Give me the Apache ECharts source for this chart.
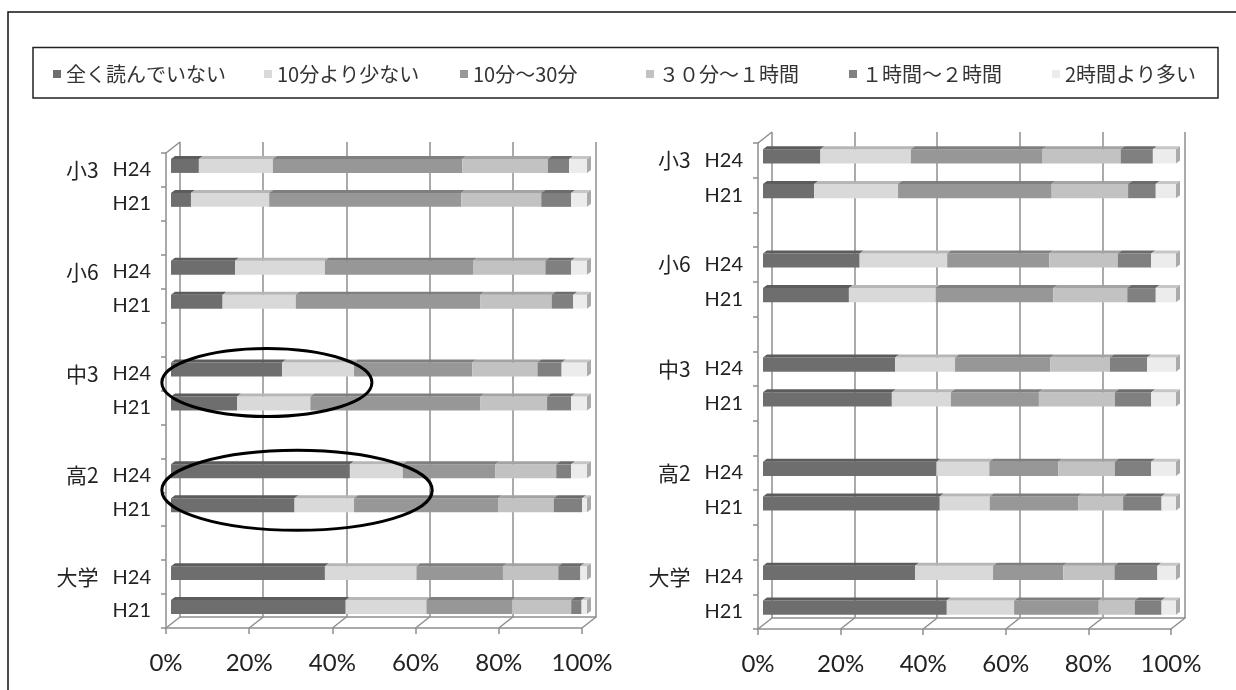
<!DOCTYPE html>
<html lang="ja">
<head>
<meta charset="utf-8">
<title>読書時間の比較（H21・H24）</title>
<script src="https://cdn.jsdelivr.net/npm/echarts@6/dist/echarts.min.js"></script>
<style>
  html, body { margin: 0; padding: 0; background: #fff; }
  #chart { width: 1236px; height: 690px; }
</style>
</head>
<body>
<div id="chart"></div>
<script>
// Reading-time bands shown in the legend
const BANDS = ['全く読んでいない', '10分より少ない', '10分～30分', '３０分～１時間', '１時間～２時間', '2時間より多い'];
const GROUPS = ['小3', '小6', '中3', '高2', '大学'];
const YEARS = ['H24', 'H21'];
const X_TICKS = [0, 20, 40, 60, 80, 100];

// Left panel, rows: 小3 H24, 小3 H21, 小6 H24, 小6 H21, 中3 H24, 中3 H21, 高2 H24, 高2 H21, 大学 H24, 大学 H21 (%)
const leftNone    = [6.7, 4.8, 15.4, 12.4, 26.7, 15.9, 43.0, 29.7, 37.0, 42.0];
const leftUnder10 = [17.8, 18.8, 21.6, 17.6, 17.3, 17.6, 12.7, 14.3, 22.0, 19.4];
const left10to30  = [45.5, 46.2, 35.6, 44.4, 28.4, 40.9, 22.3, 34.6, 20.8, 20.6];
const left30to60  = [20.6, 19.2, 17.4, 17.1, 15.7, 16.0, 14.6, 13.4, 13.3, 14.2];
const left1to2h   = [5.1, 7.2, 6.2, 5.2, 5.8, 5.8, 3.6, 6.8, 5.3, 2.5];
const leftOver2h  = [4.3, 3.8, 3.8, 3.3, 6.1, 3.8, 3.8, 1.2, 1.6, 1.3];

// Right panel, same row order (%)
const rightNone    = [13.9, 12.4, 23.4, 20.8, 32.0, 31.2, 42.0, 42.8, 36.8, 44.5];
const rightUnder10 = [21.9, 20.3, 21.2, 21.0, 14.5, 14.3, 12.8, 12.1, 18.9, 16.3];
const right10to30  = [31.9, 37.2, 24.7, 28.5, 23.1, 21.3, 16.7, 21.4, 17.0, 20.5];
const right30to60  = [18.9, 18.5, 16.6, 17.9, 14.4, 18.4, 13.7, 10.9, 12.4, 8.7];
const right1to2h   = [7.8, 6.7, 8.1, 6.9, 9.0, 8.8, 8.8, 9.3, 10.4, 6.5];
const rightOver2h  = [5.6, 4.9, 6.0, 4.9, 7.0, 6.0, 6.0, 3.5, 4.5, 3.5];

// Highlight rings on the left panel: which group, x-range (%) and a small vertical nudge
const RINGS = [
  { group: '中3', from: -1, to: 49.5, ry: 34, nudge: -8 },
  { group: '高2', from: -1, to: 64, ry: 40, nudge: -2 }
];

// ---- styling ----
const JP = '"Noto Sans CJK JP", "Noto Sans", sans-serif';
const LATIN = 'Lato, "Noto Sans", sans-serif';
const COLORS = ['#6e6e6e', '#d9d9d9', '#979797', '#c2c2c2', '#808080', '#ececec'];
const GRID_C = '#8e8e8e';
const DEPTH = [14, -11];     // oblique offset from front plane to back wall
const BAR_DEPTH = [4, -3];   // visible thickness of a bar's top face
const BAR_FILL = 0.41;       // bar height as a share of one category band

// Category slots: two rows per group with an empty slot between groups
const SLOTS = [];
const ROW_SLOTS = [];
GROUPS.forEach((g, gi) => {
  YEARS.forEach(y => { ROW_SLOTS.push(SLOTS.length); SLOTS.push(g + '|' + y); });
  if (gi < GROUPS.length - 1) SLOTS.push('gap|' + gi);
});

const PANELS = [
  { left: 166, top: 153, width: 416, height: 475,
    series: [leftNone, leftUnder10, left10to30, left30to60, left1to2h, leftOver2h] },
  { left: 758, top: 143, width: 413, height: 486,
    series: [rightNone, rightUnder10, right10to30, right30to60, right1to2h, rightOver2h] }
];

function shade(hex, f) {
  const n = parseInt(hex.slice(1), 16);
  const c = [(n >> 16) & 255, (n >> 8) & 255, n & 255].map(v => Math.round(v * f));
  return 'rgb(' + c.join(',') + ')';
}

function barRenderer(k, isLast) {
  return function (params, api) {
    const slot = api.value(2);
    const a = api.coord([api.value(0), slot]);
    const b = api.coord([api.value(1), slot]);
    const h = api.size([0, 1])[1] * BAR_FILL;
    const ox = (DEPTH[0] - BAR_DEPTH[0]) / 2;
    const oy = (DEPTH[1] - BAR_DEPTH[1]) / 2;
    const x0 = a[0] + ox, x1 = b[0] + ox;
    const y0 = a[1] + oy - h / 2, y1 = y0 + h;
    const dx = BAR_DEPTH[0], dy = BAR_DEPTH[1];
    const col = COLORS[k];
    const kids = [
      { type: 'rect', shape: { x: x0, y: y0, width: x1 - x0, height: h }, style: { fill: col } },
      { type: 'polygon', shape: { points: [[x0, y0], [x1, y0], [x1 + dx, y0 + dy], [x0 + dx, y0 + dy]] },
        style: { fill: shade(col, 0.84) } }
    ];
    if (isLast) {
      kids.push({ type: 'polygon', shape: { points: [[x1, y0], [x1 + dx, y0 + dy], [x1 + dx, y1 + dy], [x1, y1]] },
        style: { fill: shade(col, 0.72) } });
    }
    return { type: 'group', children: kids };
  };
}

function frameRenderer(params, api) {
  const cs = params.coordSys;
  const v = api.value(0);
  const x = api.coord([v, 0])[0];
  const yb = cs.y + cs.height;
  const ls = { stroke: GRID_C, lineWidth: 1.5 };
  const kids = [{ type: 'line', shape: { x1: x, y1: yb, x2: x + DEPTH[0], y2: yb + DEPTH[1] }, style: ls }];
  if (v === X_TICKS[0]) {
    kids.push({ type: 'line', shape: { x1: cs.x, y1: cs.y, x2: cs.x + DEPTH[0], y2: cs.y + DEPTH[1] }, style: ls });
  }
  return { type: 'group', children: kids };
}

function slotLabel(v) {
  const parts = v.split('|');
  if (parts[0] === 'gap') return '';
  return parts[1] === YEARS[0] ? '{g|' + parts[0] + '}{y|' + parts[1] + '}' : '{y|' + parts[1] + '}';
}

const grid = [], xAxis = [], yAxis = [], series = [];
const lineStyle = { color: GRID_C, width: 1.5 };

PANELS.forEach(p => {
  const front = grid.length;
  const back = front + 1;
  grid.push({ left: p.left, top: p.top, width: p.width, height: p.height, containLabel: false, outerBoundsMode: 'none' });
  grid.push({ left: p.left + DEPTH[0], top: p.top + DEPTH[1], width: p.width, height: p.height, containLabel: false, outerBoundsMode: 'none' });

  xAxis.push({
    gridIndex: front, type: 'value', min: 0, max: 100, interval: 20,
    axisLine: { show: true, lineStyle },
    axisTick: { show: true, length: 6, lineStyle },
    axisLabel: { formatter: '{value}%', fontFamily: LATIN, fontSize: 24, color: '#222', margin: 23 },
    splitLine: { show: false }
  });
  xAxis.push({
    gridIndex: back, type: 'value', min: 0, max: 100, interval: 20,
    axisLine: { show: true, lineStyle },
    axisTick: { show: false }, axisLabel: { show: false },
    splitLine: { show: true, lineStyle }
  });
  yAxis.push({
    gridIndex: front, type: 'category', inverse: true, data: SLOTS,
    axisLine: { show: true, lineStyle },
    axisTick: { show: true, interval: 0, length: 5, lineStyle },
    axisLabel: {
      interval: 0, margin: 15, formatter: slotLabel,
      rich: {
        g: { fontFamily: JP, fontSize: 21, color: '#222', padding: [0, 14, 0, 0] },
        y: { fontFamily: LATIN, fontSize: 20, color: '#222' }
      }
    },
    splitLine: { show: false }
  });
  yAxis.push({ gridIndex: back, type: 'category', inverse: true, data: SLOTS, show: false });

  series.push({
    type: 'custom', name: 'frame', xAxisIndex: front, yAxisIndex: front, silent: true, z: 1,
    encode: { x: 0, y: 1 }, data: X_TICKS.map(v => [v, 0]), renderItem: frameRenderer
  });

  p.series.forEach((vals, k) => {
    const data = vals.map((v, r) => {
      let start = 0;
      for (let j = 0; j < k; j++) start += p.series[j][r];
      return [start, start + v, ROW_SLOTS[r]];
    });
    series.push({
      type: 'custom', name: BANDS[k], xAxisIndex: front, yAxisIndex: front, z: 3,
      itemStyle: { color: COLORS[k] }, encode: { x: [0, 1], y: 2 },
      data, renderItem: barRenderer(k, k === p.series.length - 1)
    });
  });
});

const LEGEND_LEFT = [53, 264, 460, 646, 849, 1052];
const legend = BANDS.map((name, i) => ({
  data: [name], left: LEGEND_LEFT[i], top: 64, padding: 0,
  icon: 'rect', itemWidth: 8, itemHeight: 8, itemGap: 0,
  textStyle: { fontFamily: JP, fontSize: 20, color: '#333' }
}));

const chart = echarts.init(document.getElementById('chart'), null, { renderer: 'canvas' });
const baseGraphic = [
  { type: 'polyline', shape: { points: [[8, 700], [8, 12], [1240, 12]] }, style: { fill: 'none', stroke: '#111', lineWidth: 1.5 }, z: 0 },
  { type: 'rect', shape: { x: 33, y: 47.5, width: 1185, height: 50.5 }, style: { fill: 'none', stroke: '#222', lineWidth: 1.5 }, z: 0 }
];
chart.setOption({
  backgroundColor: '#fff',
  animation: false,
  grid, xAxis, yAxis, series, legend,
  graphic: baseGraphic
});

// Highlight rings placed from the left panel's axes
const ringGraphics = RINGS.map(r => {
  const sA = SLOTS.indexOf(r.group + '|' + YEARS[0]);
  const sB = SLOTS.indexOf(r.group + '|' + YEARS[1]);
  const pA = chart.convertToPixel({ gridIndex: 0 }, [r.from, sA]);
  const pB = chart.convertToPixel({ gridIndex: 0 }, [r.to, sB]);
  return {
    type: 'ellipse',
    shape: { cx: (pA[0] + pB[0]) / 2, cy: (pA[1] + pB[1]) / 2 + r.nudge, rx: (pB[0] - pA[0]) / 2, ry: r.ry },
    style: { fill: 'none', stroke: '#000', lineWidth: 3 },
    z: 100
  };
});
chart.setOption({ graphic: baseGraphic.concat(ringGraphics) });
</script>
</body>
</html>
